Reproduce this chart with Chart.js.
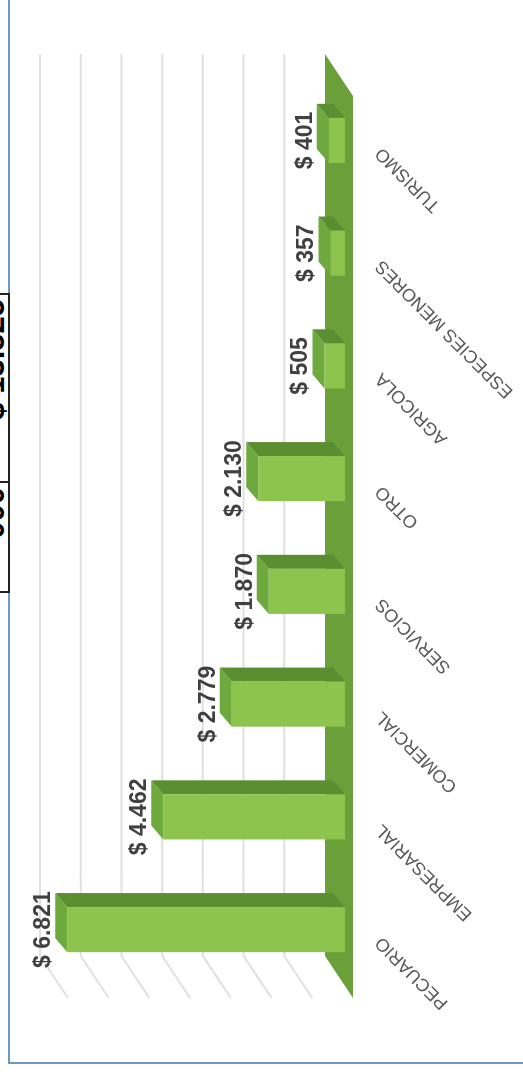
<!DOCTYPE html>
<html>
<head>
<meta charset="utf-8">
<script src="https://cdn.jsdelivr.net/npm/chart.js@4.4.1/dist/chart.umd.min.js"></script>
<style>
  html, body { margin: 0; padding: 0; background: #fff; overflow: hidden; width: 523px; height: 1074px; }
  /* the chart is laid out upright (1074 x 523) and turned a quarter turn left */
  #stage { position: absolute; left: 0; top: 0; width: 1074px; height: 523px; overflow: hidden;
           transform-origin: 0 0; transform: translateY(1074px) rotate(-90deg); }
  #frame { position: absolute; left: 10px; top: 8px; width: 1200px; height: 700px; border: 2px solid #6e98cc; }
  #cut-table { position: absolute; left: 481px; top: -30px; width: 300px; height: 38px; border-bottom: 2px solid #222;
               font: bold 31px "Liberation Sans", Arial, sans-serif; color: #000; }
  #cut-table div { position: absolute; top: 0; height: 38px; line-height: 47px; text-align: right;
                   border-left: 2px solid #222; box-sizing: border-box; padding-right: 4px; }
  canvas { position: absolute; left: 0; top: 0; }
</style>
</head>
<body>
<div id="stage">
  <div id="frame"></div>
  <div id="cut-table">
    <div style="left:0; width:110px;">000</div>
    <div style="left:110px; width:190px; border-right:2px solid #222;">$ 13.525</div>
  </div>
  <canvas id="chart" width="1074" height="523"></canvas>
</div>
<script>
  const categorias = ['PECUARIO', 'EMPRESARIAL', 'COMERCIAL', 'SERVICIOS', 'OTRO', 'AGRICOLA', 'ESPECIES MENORES', 'TURISMO'];
  const montos = [6821, 4462, 2779, 1870, 2130, 505, 357, 401];
  const escalaMax = 7000;
  const pasoGrilla = 1000;

  // 3D look: depth of the bars, back wall and front edge of the floor
  const PROF = { dx: 14, dy: -12 };
  const FONDO = { dx: 30, dy: -20 };
  const FRENTE = { dx: -12, dy: 8 };

  function formatoPesos(v) {
    return '$ ' + String(v).replace(/\B(?=(\d{3})+(?!\d))/g, '.');
  }

  const efecto3d = {
    id: 'efecto3d',
    beforeDatasetsDraw(chart) {
      const { ctx, chartArea: a, scales: { x, y } } = chart;
      const base = y.getPixelForValue(0);
      ctx.save();

      // gridlines on the back wall and the left side wall
      ctx.strokeStyle = '#e0e0e0';
      ctx.lineWidth = 2;
      for (let v = pasoGrilla; v <= escalaMax; v += pasoGrilla) {
        const py = y.getPixelForValue(v);
        ctx.beginPath();
        ctx.moveTo(a.left + FRENTE.dx, py + FRENTE.dy);
        ctx.lineTo(a.left + FONDO.dx, py + FONDO.dy);
        ctx.lineTo(a.right + FONDO.dx, py + FONDO.dy);
        ctx.stroke();
      }

      // floor
      ctx.fillStyle = '#6b9f39';
      ctx.beginPath();
      ctx.moveTo(a.left + FRENTE.dx, base + FRENTE.dy);
      ctx.lineTo(a.right + FRENTE.dx, base + FRENTE.dy);
      ctx.lineTo(a.right + FONDO.dx, base + FONDO.dy);
      ctx.lineTo(a.left + FONDO.dx, base + FONDO.dy);
      ctx.closePath();
      ctx.fill();

      // top and side faces of each bar
      chart.getDatasetMeta(0).data.forEach(bar => {
        const L = bar.x - bar.width / 2, R = bar.x + bar.width / 2, T = bar.y, B = bar.base;
        ctx.fillStyle = '#6ea93d';
        ctx.beginPath();
        ctx.moveTo(L, T); ctx.lineTo(R, T);
        ctx.lineTo(R + PROF.dx, T + PROF.dy); ctx.lineTo(L + PROF.dx, T + PROF.dy);
        ctx.closePath(); ctx.fill();
        ctx.fillStyle = '#5a8e30';
        ctx.beginPath();
        ctx.moveTo(R, T); ctx.lineTo(R, B);
        ctx.lineTo(R + PROF.dx, B + PROF.dy); ctx.lineTo(R + PROF.dx, T + PROF.dy);
        ctx.closePath(); ctx.fill();
      });
      ctx.restore();
    },
    afterDatasetsDraw(chart) {
      const { ctx } = chart;
      ctx.save();
      ctx.font = 'bold 23px "Liberation Sans", Arial, sans-serif';
      ctx.fillStyle = '#404040';
      ctx.textAlign = 'center';
      ctx.textBaseline = 'alphabetic';
      chart.getDatasetMeta(0).data.forEach((bar, i) => {
        ctx.fillText(formatoPesos(montos[i]), bar.x, bar.y + PROF.dy - 5);
      });
      ctx.restore();
    }
  };

  new Chart(document.getElementById('chart'), {
    type: 'bar',
    data: {
      labels: categorias,
      datasets: [{
        data: montos,
        backgroundColor: '#8cc44e',
        borderWidth: 0,
        categoryPercentage: 1,
        barPercentage: 0.4
      }]
    },
    options: {
      responsive: false,
      animation: false,
      events: [],
      layout: { padding: { left: 88, right: 84, top: 60, bottom: 0 } },
      plugins: { legend: { display: false }, tooltip: { enabled: false } },
      scales: {
        x: {
          grid: { display: false, drawTicks: false },
          border: { display: false },
          afterFit: s => { s.height = 178; },
          ticks: {
            autoSkip: false,
            minRotation: 45,
            maxRotation: 45,
            padding: 26,
            labelOffset: -10,
            color: '#595959',
            font: { family: '"Liberation Sans", Arial, sans-serif', size: 18 }
          }
        },
        y: {
          display: false,
          min: 0,
          max: escalaMax
        }
      }
    },
    plugins: [efecto3d]
  });
</script>
</body>
</html>
